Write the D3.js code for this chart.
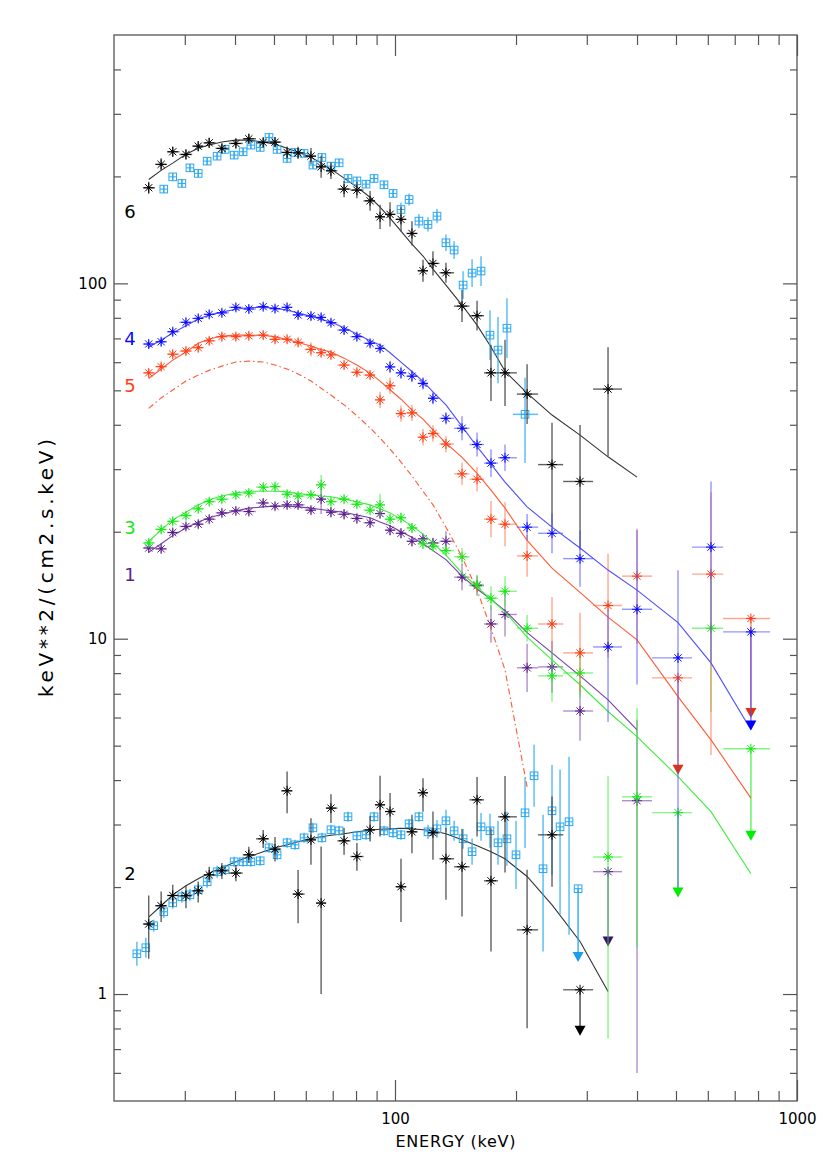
<!DOCTYPE html>
<html><head><meta charset="utf-8">
<script src="https://cdn.jsdelivr.net/npm/d3@7"></script>
<style>body{margin:0;background:#fff}text{font-family:"DejaVu Sans",sans-serif}</style>
</head><body><svg id="c" width="830" height="1174"></svg>
<script>
// ---------- DATA ----------
const binE = [24.4,26.2,28.0,30.2,32.4,34.5,37.1,40.2,43.3,47.0,50.3,53.9,57.4,61.8,65.5,69.3,74.7,80.4,86.7,91.8,97.2,103.5,110.2,117.4,124.3,133.9,146.8,160.0,173.3,187.8,213.1,245.8,288.6,338.8,400,505.8,611,768];
const binEdges = [23.6,25.3,27.1,29.1,31.3,33.4,35.8,38.6,41.8,45.1,48.6,52.1,55.6,59.6,63.6,67.4,71.9,77.5,83.5,89.2,94.4,100.3,106.8,113.8,120.8,129.0,140.3,153.2,166.5,180.4,201,227,262,311,367,436,548,655,857];
const sqE = [22.8,24.0,25.1,26.6,28.0,29.5,30.9,32.4,34.1,36.1,37.8,39.8,41.9,43.8,46.2,48.6,50.9,53.9,56.4,59.4,62.5,65.8,69.3,72.6,76.4,80.4,84.7,88.7,93.9,98.9,103.5,108.4,114.7,120.8,127.2,133.9,140.3,147.7,155.5,163.7,172.3,180.4,189.9,200,210.6,221.8,233.5,245.8,257.4,271.0,285.4];

// series 6 (black stars)
const s6V  = [185.8,216.2,234.6,230.6,243.3,248.6,239.8,247.6,255.2,249.3,249.7,233.6,232.9,228.0,212.8,207.4,184.2,183.0,170.7,153.9,156.4,151.4,138.2,108.5,113.8,107.1,86.3,81.1,56.0,56.0,48.8,30.9,27.7,50.4];
const s6Up = [.017,.017,.014,.014,.014,.014,.014,.014,.014,.014,.014,.017,.017,.023,.031,.023,.023,.023,.028,.034,.034,.034,.034,.031,.034,.028,.045,.042,.079,.093,.084,.118,.159,.118];
const s6Dn = [.017,.017,.014,.014,.014,.014,.014,.014,.014,.014,.014,.017,.017,.023,.031,.023,.023,.023,.028,.034,.034,.034,.034,.031,.034,.028,.045,.042,.079,.093,.084,.176,.192,.188];
// series 6 (light-blue squares), starting at sqE index 3
const s6qV  = [184.2,199.4,191.1,211.4,203.9,220.8,228.0,238.2,229.6,234.6,244.9,241.3,257.4,238.2,224.7,233.6,232.1,215.2,226.1,213.8,218.4,197.3,194.3,190.2,197.3,189.4,179.1,161.4,172.2,149.7,146.5,154.6,130.1,124.1,98.9,106.9,108.3,71.5,64.9,74.8];
const s6qErr= [.011,.011,.011,.011,.011,.011,.011,.011,.011,.011,.011,.011,.011,.011,.011,.011,.011,.011,.011,.011,.011,.011,.011,.011,.011,.011,.011,.020,.017,.020,.020,.020,.023,.025,.039,.039,.042,.070,.093,.084];
const s6wE = [210.6], s6wLo=[196.5], s6wHi=[227], s6wV=[42.8], s6wUp=[.103], s6wDn=[.137];
const m6 = [196,208,218,231,240,245,250,253,253,250,246.5,240,234,226.6,218,209.6,197.8,186.6,174.7,164,152.6,140.3,129,119.4,109.7,98.9,86.9,76.3,66.2,56.6,49.1,42.6,37.4,32.5,28.5];

// series 4 (blue)
const s4V  = [67.5,68.5,73.1,77.7,79.7,81.8,82.6,85.6,84.7,86.0,84.9,85.6,81.5,80.9,80.2,77.5,73.9,70.8,67.8,65.6,58.2,56.0,54.8,52.3,47.5,41.7,39.1,35.2,31.2,32.3,20.6,19.8,16.8,9.48,12.1,8.83,18.1,null];
const s4Up = [.011,.011,.011,.011,.011,.011,.011,.011,.011,.011,.011,.011,.011,.011,.011,.011,.011,.011,.011,.011,.017,.017,.017,.017,.017,.017,.034,.034,.039,.037,.037,.056,.079,.104,.223,.247,.185,0];
const s4Dn = [.011,.011,.011,.011,.011,.011,.011,.011,.011,.011,.011,.011,.011,.011,.011,.011,.011,.011,.011,.011,.017,.017,.017,.017,.017,.017,.034,.034,.039,.037,.037,.056,.079,.211,.212,.647,.322,0];
const s4UlBin=[37], s4UlV=[10.45], s4UlTip=[5.52];
const m4 = [66.1,69.3,72.5,76,79.4,81.5,83,84.6,85.5,85.6,85.2,84,82.6,80.8,79.2,77.8,75,72,69,67.1,63.8,60,56.5,53,49.5,45.5,39.6,34.7,31,27.6,23.5,20.6,18,15.6,13.7,11.1,8.55,5.54];

// series 5 (red)
const s5V  = [56.0,58.3,63.2,64.5,65.9,68.9,70.8,70.8,71.2,71.5,69.6,69.6,68.2,65.2,63.8,62.9,58.9,56.2,55.2,47.0,51.5,43.0,43.2,36.9,37.8,35.3,29.1,28.1,21.7,21.0,17.1,11.0,9.12,12.4,15.0,null,15.2,null];
const s5Up = [.011,.011,.011,.011,.011,.011,.011,.011,.011,.011,.011,.011,.011,.020,.011,.011,.011,.011,.011,.023,.023,.023,.023,.023,.023,.023,.031,.034,.051,.062,.059,.076,.113,.146,.134,0,.230,0];
const s5Dn = [.011,.011,.011,.011,.011,.011,.011,.011,.011,.011,.011,.011,.011,.020,.011,.011,.011,.011,.011,.023,.023,.023,.023,.023,.023,.023,.031,.034,.051,.062,.059,.076,.113,.146,.190,0,.509,0];
const s5UlBin=[35,37], s5UlV=[7.76,11.4], s5UlTip=[4.14,5.98];
const m5 = [54.0,57.4,60.8,64.1,67.8,69.7,71.1,71.5,71.5,71.3,70.8,69.5,68.2,66.6,65.1,64.1,61.6,58.9,55.9,53.1,50.2,47.2,44.0,41.5,38.7,35.5,32.4,29.2,26.2,23.3,18.9,15.8,13.5,11.5,9.92,6.87,5.19,3.56];
const m5c = [44.5,47.6,50.1,53.1,55.2,56.9,58.5,60.1,60.4,60.1,58.9,57.4,55.6,53.1,50.7,48.5,45.5,42.4,39.2,36.7,34.2,31.4,28.7,26.0,23.8,20.6,17.0,13.7,10.7,8.17,3.83];

// series 3 (green)
const s3V  = [18.6,20.3,21.4,22.2,23.2,24.3,24.7,25.4,25.7,26.7,26.8,25.5,25.2,25.4,27.1,24.3,24.7,23.9,23.0,23.8,21.7,21.9,20.5,18.5,18.2,17.7,17.0,14.2,13.0,13.6,10.7,7.86,8.01,2.43,3.59,null,10.7,null];
const s3Up = [.011,.011,.011,.011,.011,.011,.011,.011,.011,.011,.011,.011,.011,.011,.028,.011,.011,.011,.011,.031,.014,.014,.014,.014,.014,.014,.025,.028,.034,.042,.037,.073,.070,.228,.250,0,.150,0];
const s3Dn = [.011,.011,.011,.011,.011,.011,.011,.011,.011,.011,.011,.011,.011,.011,.028,.011,.011,.011,.011,.031,.014,.014,.014,.014,.014,.014,.025,.028,.034,.042,.037,.073,.070,.511,.425,0,.235,0];
const s3UlBin=[35,37], s3UlV=[3.24,4.90], s3UlTip=[1.87,2.70];
const m3 = [18.8,20.2,21.6,22.7,23.8,24.6,25.2,25.7,26.0,26.0,26.0,25.9,25.6,25.4,25.2,25.1,24.7,24.3,23.8,23.2,22.6,21.7,20.8,19.7,18.6,17.2,15.3,14.0,12.9,11.9,10.1,8.72,7.42,6.24,5.30,4.09,3.26,2.18];

// series 1 (purple)
const s1V  = [18.0,17.9,19.9,20.7,21.0,21.7,22.6,22.9,22.8,24.1,23.6,23.8,23.8,23.0,24.7,22.7,22.4,21.8,21.2,22.5,20.2,19.8,18.8,19.1,18.6,18.8,14.9,14.1,11.0,11.7,8.28,8.33,6.26,null,3.50];
const s1Up = [.011,.011,.011,.011,.011,.011,.011,.011,.011,.011,.011,.011,.011,.011,.042,.014,.014,.014,.014,.014,.014,.014,.014,.014,.014,.028,.037,.028,.053,.062,.068,.073,.084,0,.228];
const s1Dn = [.011,.011,.011,.011,.011,.011,.011,.011,.011,.011,.011,.011,.011,.011,.042,.014,.014,.014,.014,.014,.014,.014,.014,.014,.014,.028,.037,.028,.053,.062,.068,.073,.084,0,.766];
const s1UlBin=[33], s1UlV=[2.21], s1UlTip=[1.36];
const m1 = [17.5,18.5,19.5,20.5,21.3,21.9,22.4,22.9,23.3,23.5,23.6,23.6,23.5,23.3,23.1,22.9,22.7,22.3,21.9,21.3,20.8,20.0,19.3,18.5,17.7,16.7,15.0,13.8,12.9,12.0,10.4,9.12,7.86,6.73,5.54];

// series 2 (black stars)
const s2V  = [1.574,1.772,1.894,1.891,1.952,2.165,2.223,2.190,2.465,2.734,2.557,3.732,1.911,2.716,1.803,3.336,2.699,2.438,2.898,3.408,3.263,2.004,2.861,3.684,2.843,2.402,2.281,3.520,2.083,3.153,1.516,2.806,null];
const s2Up = [.080,.040,.030,.029,.026,.023,.022,.023,.023,.025,.034,.054,.068,.061,.159,.039,.036,.038,.039,.082,.052,.079,.048,.041,.060,.087,.106,.064,.148,.115,.169,.108,0];
const s2Dn = [.098,.046,.031,.035,.033,.021,.023,.023,.023,.026,.035,.063,.082,.070,.256,.042,.039,.040,.033,.089,.051,.099,.060,.053,.076,.115,.140,.103,.199,.157,.277,.146,0];
const s2UlBin=[32], s2UlV=[1.028], s2UlTip=[0.763];
// series 2 (light-blue squares), sqE index 0..49, UL at 50
const s2qV  = [1.298,1.350,1.557,1.704,1.806,1.878,1.902,1.965,2.070,2.208,2.237,2.356,2.356,2.356,2.371,2.579,2.465,2.665,2.630,2.752,2.936,2.752,2.899,2.880,3.154,2.788,2.806,3.154,2.880,2.843,2.806,3.013,3.154,2.861,2.917,3.073,2.880,2.735,2.515,2.955,2.880,2.665,2.735,2.465,3.236,4.114,2.252,3.279,2.955,3.054];
const s2qUp = [.034,.028,.017,.017,.017,.017,.017,.017,.017,.017,.014,.014,.014,.014,.014,.014,.014,.014,.014,.014,.014,.014,.014,.014,.014,.014,.014,.014,.014,.014,.014,.014,.014,.020,.025,.031,.028,.028,.037,.039,.048,.062,.076,.096,.099,.087,.152,.129,.161,.183];
const s2qDn = [.034,.028,.017,.017,.017,.017,.017,.017,.017,.017,.014,.014,.014,.014,.014,.014,.014,.014,.014,.014,.014,.014,.014,.014,.014,.014,.014,.014,.014,.014,.014,.014,.014,.020,.025,.031,.028,.028,.037,.039,.048,.062,.076,.096,.099,.087,.233,.180,.247,.318];
const s2qUlIdx=[50], s2qUlV=[1.979], s2qUlTip=[1.23];
const m2 = [1.647,1.772,1.902,2.017,2.110,2.190,2.266,2.356,2.433,2.513,2.579,2.630,2.682,2.734,2.770,2.797,2.824,2.861,2.889,2.908,2.917,2.927,2.917,2.899,2.880,2.824,2.716,2.614,2.513,2.402,2.142,1.783,1.406,1.017];

const xMajor=[100,1000], xMinor=[30,40,50,60,70,80,90,200,300,400,500,600,700,800,900];
const yMajor=[1,10,100], yMinor=[0.6,0.7,0.8,0.9,2,3,4,5,6,7,8,9,20,30,40,50,60,70,80,90,200,300,400];
const labels=[{t:"6",v:212,c:"#000"},{t:"4",v:339,c:"#0a0aff"},{t:"5",v:386,c:"#ff3c14"},{t:"3",v:528,c:"#16e816"},{t:"1",v:575,c:"#5b1f8c"},{t:"2",v:874,c:"#000"}];

// ---------- CHART ----------
const svg=d3.select("#c");
const L=114,R=797,T=35,B=1101;
const x=d3.scaleLog().domain([20,1000]).range([L,R]);
const y=d3.scaleLog().domain([0.5,500]).range([B,T]);
const axCol="#555";

function ax(gen,tx,ty,vals,size,fmt,pad){
  const g=svg.append("g").attr("transform",`translate(${tx},${ty})`)
    .call(gen.tickValues(vals).tickSize(size).tickFormat(fmt||"").tickPadding(pad||10));
  g.select(".domain").remove();
  g.selectAll("line").attr("stroke",axCol).attr("stroke-width",1.2);
  g.selectAll("text").attr("font-size",15).attr("fill","#000").attr("font-family","DejaVu Sans");
  return g;
}
ax(d3.axisBottom(x),0,B,xMajor,-21,d3.format("d"),12);
ax(d3.axisBottom(x),0,B,xMinor,-10);
ax(d3.axisTop(x),0,T,xMajor,-21);
ax(d3.axisTop(x),0,T,xMinor,-10);
ax(d3.axisLeft(y),L,0,yMajor,-14,d3.format("d")).selectAll("text").attr("dx",3);
ax(d3.axisLeft(y),L,0,yMinor,-7);
ax(d3.axisRight(y),R,0,yMajor,-14);
ax(d3.axisRight(y),R,0,yMinor,-7);
svg.append("rect").attr("x",L).attr("y",T).attr("width",R-L).attr("height",B-T)
  .attr("fill","none").attr("stroke",axCol).attr("stroke-width",1.3);

svg.append("text").attr("x",(L+R)/2).attr("y",1147).attr("text-anchor","middle")
  .attr("font-size",16).attr("textLength",120).attr("lengthAdjust","spacing").text("ENERGY (keV)");
svg.append("text").attr("transform",`translate(53,${(T+B)/2}) rotate(-90)`).attr("text-anchor","middle")
  .attr("font-size",20).attr("textLength",258).attr("lengthAdjust","spacing").text("keV**2/(cm2.s.keV)");
labels.forEach(d=>svg.append("text").attr("x",130).attr("y",d.v).attr("dy","0.36em")
  .attr("text-anchor","middle").attr("font-size",18).attr("fill",d.c).text(d.t));

const gData=svg.append("g");
const line=d3.line().x(d=>x(d[0])).y(d=>y(d[1]));
function model(vals,col,dash){
  gData.append("path").attr("d",line(vals.map((v,i)=>[binE[i],v])))
    .attr("fill","none").attr("stroke",col).attr("stroke-width",1.1)
    .attr("stroke-dasharray",dash||null);
}
function star(px,py,col){
  const r=5,d=3.6;
  gData.append("path").attr("d",`M${px-r},${py}h${2*r}M${px},${py-r}v${2*r}M${px-d},${py-d}l${2*d},${2*d}M${px-d},${py+d}l${2*d},${-2*d}`)
    .attr("stroke",col).attr("stroke-width",1);
  gData.append("circle").attr("cx",px).attr("cy",py).attr("r",1.4).attr("fill",col);
}
function square(px,py,col){
  const h=3.8;
  gData.append("rect").attr("x",px-h).attr("y",py-h).attr("width",2*h).attr("height",2*h)
    .attr("fill","none").attr("stroke",col).attr("stroke-width",1);
  gData.append("path").attr("d",`M${px-h},${py}h${2*h}M${px},${py-h}v${2*h}`).attr("stroke",col).attr("stroke-width",1);
}
function bar(x1,y1,x2,y2,col,op,w){
  gData.append("line").attr("x1",x1).attr("y1",y1).attr("x2",x2).attr("y2",y2)
    .attr("stroke",col).attr("stroke-opacity",op).attr("stroke-width",w||1.4);
}
function tri(px,pyTip,col){
  gData.append("path").attr("d",`M${px-5.5},${pyTip-10}L${px+5.5},${pyTip-10}L${px},${pyTip}Z`).attr("fill",col);
}
function stars(V,up,dn,col,barCol,op){
  V.forEach((v,i)=>{
    if(v==null) return;
    const px=x(binE[i]),py=y(v);
    bar(x(binEdges[i]),py,x(binEdges[i+1]),py,barCol,op);
    bar(px,y(v/Math.pow(10,dn[i])),px,y(v*Math.pow(10,up[i])),barCol,op);
  });
  V.forEach((v,i)=>{ if(v!=null) star(x(binE[i]),y(v),col); });
}
function ulStars(bins,vals,tips,col,barCol,op,triCol){
  bins.forEach((b,i)=>{
    const px=x(binE[b]);
    bar(x(binEdges[b]),y(vals[i]),x(binEdges[b+1]),y(vals[i]),barCol,op);
    bar(px,y(vals[i]),px,y(tips[i])-6,barCol,Math.min(1,op+0.2));
    star(px,y(vals[i]),col);
    tri(px,y(tips[i]),triCol||col);
  });
}
function squares(V,up,dn,start,col,op){
  V.forEach((v,i)=>{
    const px=x(sqE[start+i]);
    bar(px,y(v/Math.pow(10,dn[i])),px,y(v*Math.pow(10,up[i])),col,op,1.5);
  });
  V.forEach((v,i)=>square(x(sqE[start+i]),y(v),col));
}

const cSq="#2aa8f0";
// series 2
model(m2,"#333");
squares(s2qV,s2qUp,s2qDn,0,cSq,0.75);
s2qUlIdx.forEach((k,i)=>{const px=x(sqE[k]);bar(px,y(s2qUlV[i]),px,y(s2qUlTip[i])-6,cSq,0.9,1.5);square(px,y(s2qUlV[i]),cSq);tri(px,y(s2qUlTip[i]),"#1a9cf0");});
stars(s2V,s2Up,s2Dn,"#000","#444",0.85);
ulStars(s2UlBin,s2UlV,s2UlTip,"#000","#444",0.8);
// series 6
model(m6,"#333");
squares(s6qV,s6qErr,s6qErr,3,cSq,0.75);
s6wV.forEach((v,i)=>{const px=x(s6wE[i]),py=y(v);
  bar(x(s6wLo[i]),py,x(s6wHi[i]),py,cSq,0.75,1.5);
  bar(px,y(v/Math.pow(10,s6wDn[i])),px,y(v*Math.pow(10,s6wUp[i])),cSq,0.75,1.5);
  square(px,py,cSq);});
stars(s6V,s6Up,s6Dn,"#000","#444",0.85);
// series 1
model(m1,"#7340a3");
stars(s1V,s1Up,s1Dn,"#5b1f8c","#7a45a8",0.6);
ulStars(s1UlBin,s1UlV,s1UlTip,"#5b1f8c","#7a45a8",0.6,"#3a1070");
// series 3
model(m3,"#3cee3c");
stars(s3V,s3Up,s3Dn,"#16e816","#33ee33",0.6);
ulStars(s3UlBin,s3UlV,s3UlTip,"#16e816","#33ee33",0.6,"#00ee00");
// series 5
model(m5,"#ff5a33");
model(m5c,"#ff5a33","6,3,1.5,3");
stars(s5V,s5Up,s5Dn,"#ff3c14","#ff6a45",0.6);
ulStars(s5UlBin,s5UlV,s5UlTip,"#ff3c14","#ff6a45",0.6,"#e83000");
// series 4
model(m4,"#4d4dff");
stars(s4V,s4Up,s4Dn,"#0a0aff","#4d4dff",0.6);
ulStars(s4UlBin,s4UlV,s4UlTip,"#0a0aff","#4d4dff",0.6,"#0000ff");
</script></body></html>
